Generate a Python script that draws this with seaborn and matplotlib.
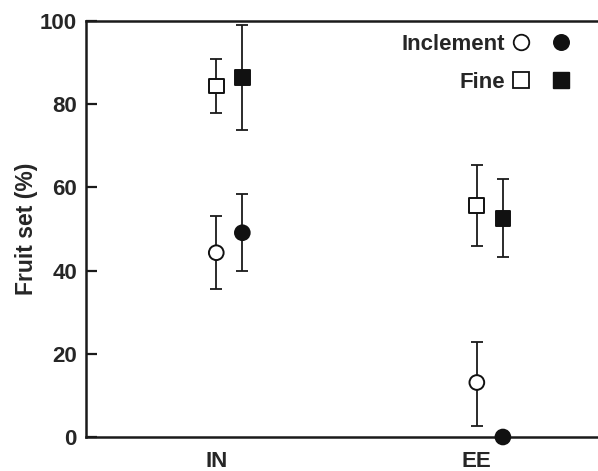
import matplotlib
matplotlib.use("Agg")
import matplotlib.pyplot as plt
import seaborn as sns
import pandas as pd
from matplotlib.lines import Line2D
from matplotlib.legend_handler import HandlerTuple

# ---- data ----
sites = ["IN", "EE"]
weather = ["Fine", "Fine", "Inclement", "Inclement", "Fine", "Fine", "Inclement", "Inclement"]
site_of = ["IN", "IN", "IN", "IN", "EE", "EE", "EE", "EE"]
fill = ["open", "filled", "open", "filled", "open", "filled", "open", "filled"]
fruit_set = [84.4, 86.5, 44.3, 49.1, 55.6, 52.6, 13.1, 0.0]
err_low = [77.9, 73.9, 35.6, 39.8, 46.0, 43.2, 2.7, 0.0]
err_high = [90.9, 99.0, 53.1, 58.4, 65.5, 62.0, 22.8, 0.0]
yticks = [0, 20, 40, 60, 80, 100]
ylabel = "Fruit set (%)"
legend_labels = ["Inclement", "Fine"]

# ---- style ----
sns.set_style("ticks")
plt.rcParams["font.family"] = ["Liberation Sans", "DejaVu Sans"]
plt.rcParams["font.weight"] = "bold"
plt.rcParams["axes.labelweight"] = "bold"

df = pd.DataFrame({"site": site_of, "weather": weather, "fill": fill,
                   "y": fruit_set, "lo": err_low, "hi": err_high})
offset = {"open": 0.0, "filled": 0.1}
df["x"] = df["site"].map({s: i for i, s in enumerate(sites)}) + df["fill"].map(offset)

fig = plt.figure(figsize=(5.98, 4.71), dpi=100)
ax = fig.add_axes([86 / 598, 34 / 471, 1 - 86 / 598, (437 - 21) / 471])

eb = df[df["hi"] > df["lo"]]
ax.errorbar(eb["x"], eb["y"], yerr=[eb["y"] - eb["lo"], eb["hi"] - eb["y"]],
            fmt="none", ecolor="#1a1a1a", elinewidth=1.3, capsize=4.6,
            capthick=1.3, zorder=2)

sns.scatterplot(data=df, x="x", y="y", hue="fill", style="weather",
                palette={"open": "white", "filled": "#111111"},
                markers={"Inclement": "o", "Fine": "s"},
                s=112, edgecolor="#111111", linewidth=1.4, legend=False,
                ax=ax, zorder=4, clip_on=False)

ax.set_xlim(-0.5, 1.465)
ax.set_ylim(0, 100)
ax.set_xticks(range(len(sites)))
ax.set_xticklabels(sites)
ax.set_yticks(yticks)
ax.tick_params(axis="y", direction="in", length=8, width=1.6, pad=6.5, labelsize=16, color="#1a1a1a")
ax.tick_params(axis="x", length=0, pad=10, labelsize=16)
ax.set_xlabel("")
ax.set_ylabel(ylabel, fontsize=16.5, fontweight="bold", labelpad=1.5)
for side in ["left", "bottom", "top"]:
    ax.spines[side].set_linewidth(1.8)
    ax.spines[side].set_color("#1a1a1a")
ax.spines["right"].set_visible(False)

def h(marker, face):
    return Line2D([], [], linestyle="none", marker=marker, markersize=11.2,
                  markerfacecolor=face, markeredgecolor="#111111",
                  markeredgewidth=1.3 if face == "white" else 1.0)

handles = [(h("o", "white"), h("o", "#111111")), (h("s", "white"), h("s", "#111111"))]
ax.legend(handles=handles, labels=legend_labels,
          handler_map={tuple: HandlerTuple(ndivide=None, pad=1.05)},
          markerfirst=False, frameon=False, loc="upper right",
          bbox_to_anchor=(0.970, 1.0), borderaxespad=0.38, borderpad=0.2,
          handlelength=2.55, handletextpad=0.35, labelspacing=0.77,
          prop={"size": 16, "weight": "bold"})

fig.savefig("out.png", dpi=100)
